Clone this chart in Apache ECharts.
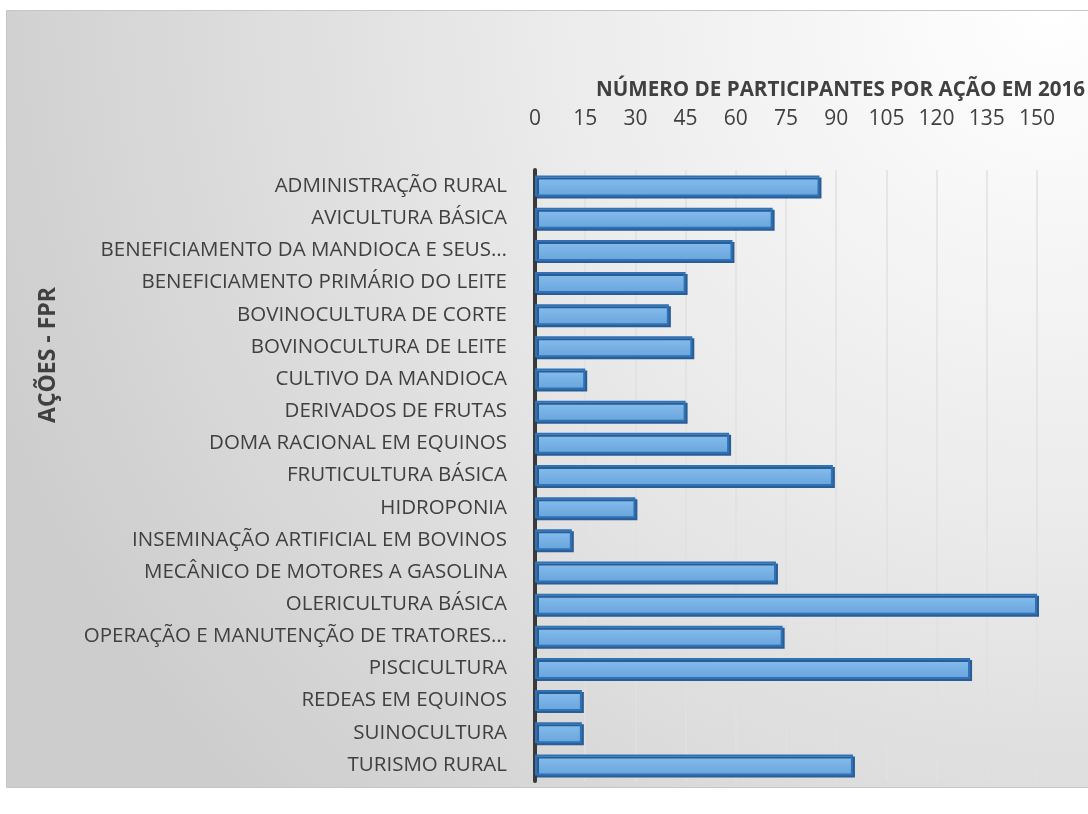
<!DOCTYPE html>
<html><head><meta charset="utf-8">
<script src="https://cdn.jsdelivr.net/npm/echarts@6/dist/echarts.min.js"></script>
<style>html,body{margin:0;padding:0;background:#fff}#c{width:1088px;height:814px}</style>
</head><body><div id="c"></div>
<script>
const categories = [
  "ADMINISTRAÇÃO RURAL",
  "AVICULTURA BÁSICA",
  "BENEFICIAMENTO DA MANDIOCA E SEUS…",
  "BENEFICIAMENTO PRIMÁRIO DO LEITE",
  "BOVINOCULTURA DE CORTE",
  "BOVINOCULTURA DE LEITE",
  "CULTIVO DA MANDIOCA",
  "DERIVADOS DE FRUTAS",
  "DOMA RACIONAL EM EQUINOS",
  "FRUTICULTURA BÁSICA",
  "HIDROPONIA",
  "INSEMINAÇÃO ARTIFICIAL EM BOVINOS",
  "MECÂNICO DE MOTORES A GASOLINA",
  "OLERICULTURA BÁSICA",
  "OPERAÇÃO E MANUTENÇÃO DE TRATORES…",
  "PISCICULTURA",
  "REDEAS EM EQUINOS",
  "SUINOCULTURA",
  "TURISMO RURAL"
];
const participantes = [85, 71, 59, 45, 40, 47, 15, 45, 58, 89, 30, 11, 72, 150, 74, 130, 14, 14, 95];
const tickMin = 0, tickMax = 150, tickStep = 15;
const chartTitle = "NÚMERO DE PARTICIPANTES POR AÇÃO EM 2016";
const yAxisTitle = "AÇÕES - FPR";

const chart = echarts.init(document.getElementById('c'));
const font = '"Open Sans", "Liberation Sans", sans-serif';
chart.setOption({
  animation: false,
  graphic: [{
    type: 'rect', z: -10, silent: true,
    shape: {x: 6.5, y: 10.5, width: 1100, height: 777},
    style: {
      fill: new echarts.graphic.RadialGradient(0.95, 0, 1.45, [
        {offset: 0, color: '#ffffff'},
        {offset: 0.45, color: '#ebebeb'},
        {offset: 1, color: '#cdcdcd'}
      ]),
      stroke: '#c6c6c6', lineWidth: 1
    }
  }, {
    type: 'text', silent: true, x: 48, y: 355, rotation: Math.PI / 2,
    style: {
      text: yAxisTitle, fontFamily: font, fontSize: 23, fontWeight: 'bold', fill: '#404040',
      align: 'center', verticalAlign: 'middle'
    }
  }],
  title: {
    text: chartTitle, left: 591, top: 75,
    textStyle: {fontFamily: font, fontSize: 20.6, fontWeight: 'bold', color: '#404040'}
  },
  grid: {left: 535, top: 170, width: 502, height: 611, containLabel: false},
  xAxis: {
    type: 'value', position: 'top', min: tickMin, max: tickMax, interval: tickStep,
    axisLine: {show: false}, axisTick: {show: false},
    axisLabel: {fontFamily: font, fontSize: 21, color: '#404040', margin: 40},
    splitLine: {show: true, lineStyle: {color: '#e0e0e0', width: 1.5}}
  },
  yAxis: {
    type: 'category', data: categories, inverse: true,
    axisLine: {show: true, lineStyle: {color: '#3a3a3a', width: 4}},
    axisTick: {show: false},
    axisLabel: {fontFamily: font, fontSize: 20.5, color: '#404040', margin: 28}
  },
  series: [{
    type: 'bar', data: participantes, barWidth: 21,
    itemStyle: {
      color: new echarts.graphic.LinearGradient(0, 0, 0, 1, [
        {offset: 0, color: '#88bfee'},
        {offset: 1, color: '#68a4dc'}
      ]),
      borderColor: '#2f72b5', borderWidth: 2,
      shadowColor: '#2a5d96', shadowOffsetX: 2, shadowOffsetY: 2, shadowBlur: 0
    }
  }]
});
</script></body></html>
